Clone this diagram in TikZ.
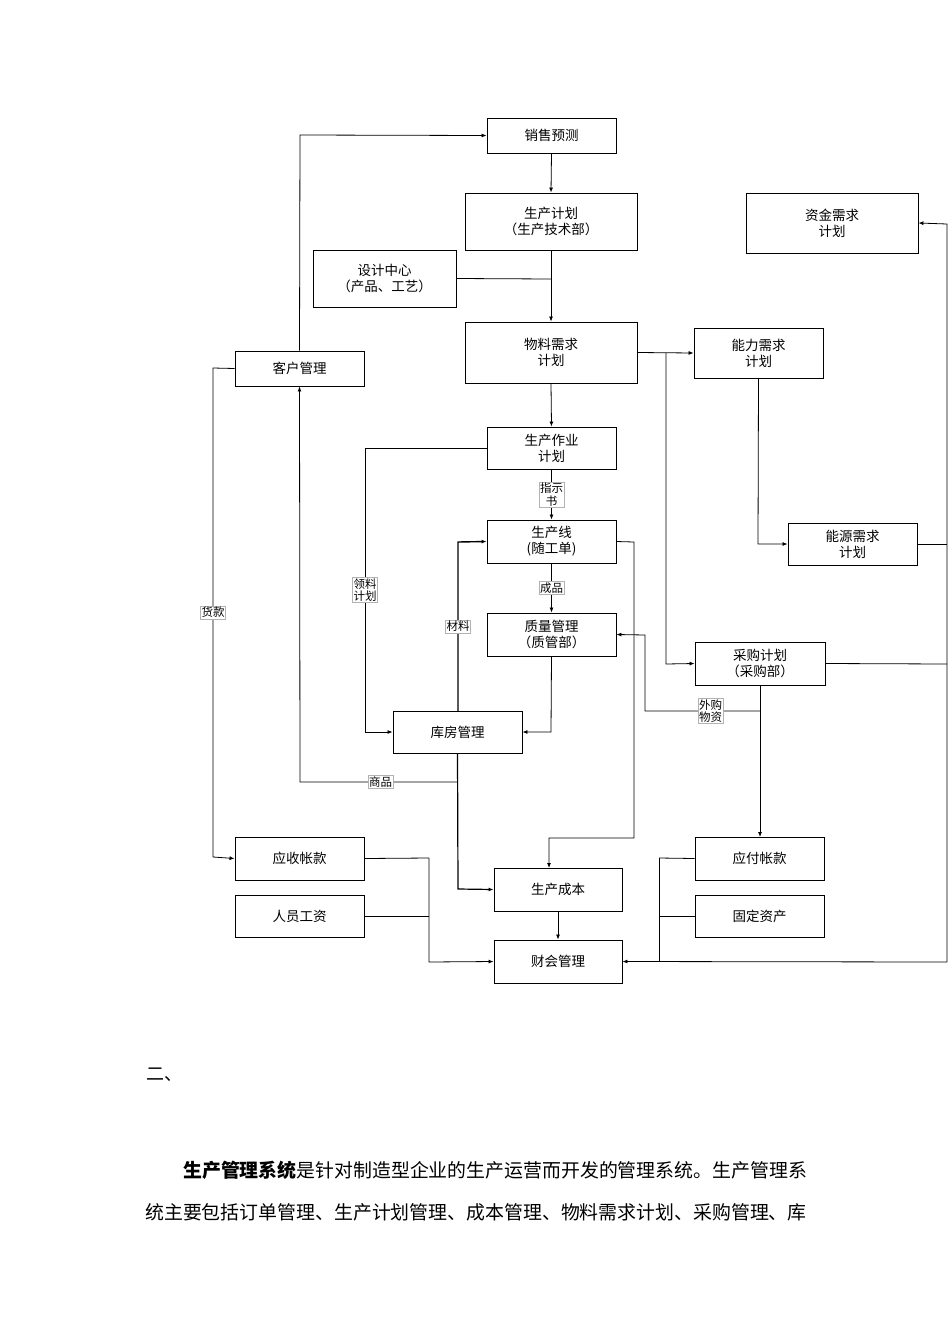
\documentclass[tikz,border=0pt]{standalone}
\usepackage{fontspec}
\setmainfont{Noto Sans CJK SC}
\usetikzlibrary{arrows.meta}
\begin{document}
\begin{tikzpicture}[x=1pt,y=-1pt,
  box/.style={draw,line width=0.9pt,align=center,font=\fontsize{13.5}{16}\selectfont,inner sep=0pt},
  ln/.style={line width=0.8pt},
  ar/.style={line width=0.8pt,-{Latex[length=5pt,width=4pt]}},
  lab/.style={draw=gray!60,line width=0.4pt,fill=white,font=\fontsize{11.5}{12.5}\selectfont,inner sep=1pt,align=center}]
\useasboundingbox (0,0) rectangle (950,1344);
\newcommand\bx[6]{\node[box,minimum width=#4-#2,minimum height=#5-#3] (#1) at ({(#2+#4)/2},{(#3+#5)/2}) {#6};}
\bx{xs}{487}{118}{616}{153}{销售预测}
\bx{sc}{465}{193}{637}{250}{生产计划\\（生产技术部）}
\bx{sj}{313}{250}{456}{307}{设计中心\\（产品、工艺）}
\bx{wl}{465}{322}{637}{383}{物料需求\\计划}
\bx{nl}{694}{328}{823}{378}{能力需求\\计划}
\bx{zj}{746}{193}{918}{253}{资金需求\\计划}
\bx{kh}{235}{351}{364}{386}{客户管理}
\bx{zy}{487}{427}{616}{469}{生产作业\\计划}
\bx{scx}{487}{520}{616}{563}{生产线\\(随工单)}
\bx{zl}{487}{613}{616}{656}{质量管理\\（质管部）}
\bx{ny}{788}{523}{917}{565}{能源需求\\计划}
\bx{cg}{695}{642}{825}{685}{采购计划\\（采购部）}
\bx{kf}{393}{711}{522}{753}{库房管理}
\bx{ys}{235}{837}{364}{880}{应收帐款}
\bx{ry}{235}{895}{364}{937}{人员工资}
\bx{cb}{494}{868}{622}{911}{生产成本}
\bx{ck}{494}{940}{622}{983}{财会管理}
\bx{yf}{695}{837}{824}{880}{应付帐款}
\bx{gd}{695}{895}{824}{937}{固定资产}
% connectors
\draw[ar] (xs.south) -- (sc.north);
\draw[ar] (sc.south) -- (wl.north);
\draw[ln] (sj.east) -- (551,279);
\draw[ar] (wl.east) -- (nl.west);
\draw[ar] (666,353) -- (666,664) -- (cg.west);
\draw[ar] (wl.south) -- (zy.north);
\draw[ar] (zy.south) -- node[lab]{指示\\书} (scx.north);
\draw[ar] (zy.west) -- (365,448) -- node[lab,pos=0.5]{领料\\计划} (365,732) -- (kf.west);
\draw[ar] (scx.south) -- node[lab]{成品} (zl.north);
\draw[ar,line width=1.4pt] (458,711) -- node[lab,pos=0.5]{材料} (458,542) -- (scx.west);
\draw[ar] (zl.south) -- (551,732) -- (kf.east);
\draw[ar] (scx.east) -- (634,542) -- (634,838) -- (549,838) -- (549,868);
\draw[ar,line width=1.2pt] (kf.south) -- (458,889) -- (cb.west);
\draw[ar] (458,782) -- node[lab,pos=0.49]{商品} (300,782) -- (kh.south);
\draw[ar] (kh.north) -- (300,135) -- (xs.west);
\draw[ar] (kh.west) -- (213,368) -- node[lab,pos=0.5]{货款} (213,857) -- (ys.west);
\draw[ar] (nl.south) -- (758,544) -- (ny.west);
\draw[ln] (ny.east) -- (947,544);
\draw[ln] (cg.east) -- (947,664);
\draw[ar] (947,962) -- (947,224) -- (zj.east);
\draw[ar] (cg.south) -- (760,837);
\draw[ar] (760,711) -- node[lab,pos=0.43]{外购\\物资} (645,711) -- (645,635) -- (zl.east);
\draw[ln] (ys.east) -- (429,858);
\draw[ln] (ry.east) -- (429,916);
\draw[ar] (429,858) -- (429,962) -- (ck.west);
\draw[ar] (cb.south) -- (ck.north);
\draw[ln] (yf.west) -- (659,858);
\draw[ln] (gd.west) -- (659,916);
\draw[ln] (659,858) -- (659,962);
\draw[ar] (947,962) -- (ck.east);
% text
\node[anchor=west,font=\fontsize{18}{20}\selectfont] (t2) at (143,1075) {二、};
\node[anchor=west,font=\fontsize{18.9}{20}\selectfont,inner sep=0pt] (p1) at (183,1170) {{\bfseries 生产管理系统}是针对制造型企业的生产运营而开发的管理系统。生产管理系};
\node[anchor=west,font=\fontsize{18.9}{20}\selectfont,inner sep=0pt] (p2) at (145,1212) {统主要包括订单管理、生产计划管理、成本管理、物料需求计划、采购管理、库};
\end{tikzpicture}
\end{document}
